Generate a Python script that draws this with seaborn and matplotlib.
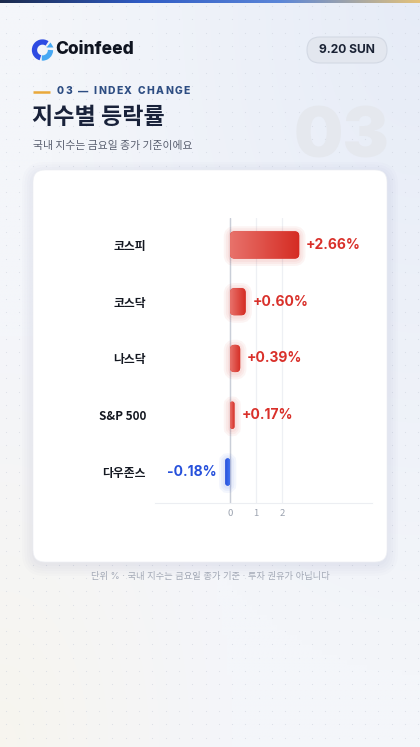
import numpy as np
import pandas as pd
import seaborn as sns
import matplotlib.pyplot as plt
from matplotlib.patches import FancyBboxPatch, Arc, Polygon
from matplotlib.colors import LinearSegmentedColormap, to_rgb

# chart data
indices = ["코스피", "코스닥", "나스닥", "S&P 500", "다우존스"]
changes = [2.66, 0.60, 0.39, 0.17, -0.18]
value_labels = ["+2.66%", "+0.60%", "+0.39%", "+0.17%", "-0.18%"]
x_ticks = [0, 1, 2]

df = pd.DataFrame({"index": indices, "change": changes})

sns.set_theme(style="white")
plt.rcParams["font.family"] = ["Noto Sans CJK KR", "DejaVu Sans"]
LATIN = ["Inter", "Noto Sans CJK KR", "DejaVu Sans"]

RED, RED_LIGHT, RED_TEXT = "#d52b22", "#e8726b", "#d9302a"
BLUE, BLUE_LIGHT = "#2650db", "#4172f0"

W, H = 420, 747
fig = plt.figure(figsize=(W / 100, H / 100), dpi=100)

# background layer in pixel coordinates
bg = fig.add_axes([0, 0, 1, 1])
bg.set_xlim(0, W)
bg.set_ylim(H, 0)
bg.axis("off")

yy, xx = np.mgrid[0:1:150j, 0:1:84j]
tr = np.clip(1 - np.hypot(1 - xx, yy) / 0.9, 0, 1) * 0.9
bl = np.clip(1 - np.hypot(xx, 1 - yy) / 0.55, 0, 1) * 0.8
img = (np.array(to_rgb("#f4f6fa")) * (1 - tr - bl)[..., None]
       + np.array(to_rgb("#e5ebf7")) * tr[..., None]
       + np.array(to_rgb("#f8f5ec")) * bl[..., None])
bg.imshow(img, extent=(0, W, H, 0), aspect="auto", interpolation="bilinear", zorder=0)

gx, gy = np.meshgrid(np.arange(6, W, 13.3), np.arange(6, H, 13.3))
bg.scatter(gx.ravel(), gy.ravel(), s=0.6, color="#cdd3de", alpha=0.65, lw=0, zorder=1)

# top accent bar
top_cmap = LinearSegmentedColormap.from_list("top", ["#1b2a4c", "#2f5bc4", "#5b86d8", "#e4c27a"])
bg.imshow(np.linspace(0, 1, 256)[None, :], cmap=top_cmap, extent=(0, W, 3, 0),
          aspect="auto", zorder=2)

# logo
bg.add_patch(Arc((42.5, 50), 16, 16, theta1=105, theta2=305, lw=3.8, color="#2e4be2", zorder=3))
bg.add_patch(Arc((42.5, 50), 16, 16, theta1=0, theta2=95, lw=3.8, color="#47a8f3", zorder=3))
bg.add_patch(Polygon([[46.5, 47.5], [53.5, 47.5], [50.5, 42.5]], closed=True,
                     color="#47a8f3", lw=0, zorder=3))
bg.text(55, 49.5, "Coinfeed", fontsize=12.5, fontweight="heavy", color="#0f1420",
        va="center", ha="left", family=LATIN, zorder=3)

# date pill
bg.add_patch(FancyBboxPatch((307, 37), 80, 26, boxstyle="round,pad=0,rounding_size=13",
                            fc="#e3e7ef", ec="#d3d9e4", lw=0.8, zorder=3))
bg.text(347, 50, "9.20 SUN", fontsize=8.7, fontweight="bold", color="#1b2335",
        va="center", ha="center", family=LATIN, zorder=4)

# section label with letter spacing
bg.plot([33, 50], [91.5, 91.5], color="#e9a83a", lw=1.8, solid_capstyle="butt", zorder=3)
renderer = fig.canvas.get_renderer()
cx = 57
for ch in "03 — INDEX CHANGE":
    if ch == " ":
        cx += 2.8 + 1.4
        continue
    t = bg.text(cx, 91.5, ch, fontsize=7.4, fontweight="heavy", color="#2d4d82",
                va="center", ha="left", family=LATIN, zorder=3)
    cx += t.get_window_extent(renderer).width + 1.4

# big watermark number
bg.text(389, 158, "03", fontsize=50, fontweight="black", color="#e5e8ee",
        va="baseline", ha="right", family=LATIN, zorder=2)

bg.text(32, 118, "지수별 등락률", fontsize=16.6, fontweight="black", color="#19223a",
        va="center", ha="left", zorder=3)
bg.text(33, 146, "국내 지수는 금요일 종가 기준이에요", fontsize=7.8, color="#5a6070",
        va="center", ha="left", zorder=3)

# card with soft shadow
for i in range(5):
    pad = 1 + i * 2.5
    bg.add_patch(FancyBboxPatch((33 - pad, 173 - pad), 354 + 2 * pad, 392 + 2 * pad,
                                boxstyle=f"round,pad=0,rounding_size={12 + pad}",
                                fc="#1a2a50", ec="none", alpha=0.013, zorder=3))
bg.add_patch(FancyBboxPatch((33, 170), 354, 392, boxstyle="round,pad=0,rounding_size=12",
                            fc="white", ec="#eef0f4", lw=0.5, zorder=4))

bg.text(210, 577, "단위 % · 국내 지수는 금요일 종가 기준 · 투자 권유가 아닙니다",
        fontsize=6.7, color="#a3a9b6", va="center", ha="center", family=LATIN, zorder=3)

# chart axes
ax = fig.add_axes([155 / W, 1 - 503 / H, (372 - 155) / W, (503 - 218) / H], zorder=5)
ax.patch.set_alpha(0)
palette = {n: (RED if v >= 0 else BLUE) for n, v in zip(indices, changes)}
sns.barplot(data=df, x="change", y="index", hue="index", palette=palette, orient="h",
            width=0.48, legend=False, saturation=1, ax=ax)

xlim = (-2.885, 5.46)
ylim = (4.546, -0.475)
px_per_x = (372 - 155) / (xlim[1] - xlim[0])
px_per_y = (503 - 218) / (ylim[0] - ylim[1])
aspect = px_per_x / px_per_y

bars = sorted(ax.patches, key=lambda p: p.get_y())
for p, v in zip(bars, changes):
    x0, w = p.get_x(), p.get_width()
    y0, h = p.get_y(), p.get_height()
    if w < 0:
        x0, w = x0 + w, -w
    p.remove()
    r = min(4.5 / px_per_x, w / 2)
    pos = v >= 0
    c_dark = RED if pos else BLUE
    c_light = RED_LIGHT if pos else BLUE_LIGHT
    for lw in [9, 6, 3]:
        ax.add_patch(FancyBboxPatch((x0, y0 + 0.02), w, h,
                                    boxstyle=f"round,pad=0,rounding_size={r}",
                                    mutation_aspect=aspect, fc="none", ec=c_dark,
                                    lw=lw, alpha=0.05, zorder=2))
    bar = FancyBboxPatch((x0, y0), w, h, boxstyle=f"round,pad=0,rounding_size={r}",
                         mutation_aspect=aspect, fc=c_dark, ec="none", zorder=3)
    ax.add_patch(bar)
    cmap = LinearSegmentedColormap.from_list("g", [c_light, c_dark] if pos else [c_dark, c_light])
    im = ax.imshow(np.linspace(0, 1, 64)[None, :], cmap=cmap, extent=(x0, x0 + w, y0 + h, y0),
                   aspect="auto", zorder=4, interpolation="bilinear")
    im.set_clip_path(bar)

for i, (v, lbl) in enumerate(zip(changes, value_labels)):
    ax.annotate(lbl, xy=(v, i), xytext=(5 if v >= 0 else -6, 0), textcoords="offset points",
                ha="left" if v >= 0 else "right", va="center", fontsize=10, fontweight="bold",
                color=RED_TEXT if v >= 0 else BLUE, family=LATIN, zorder=6)

ax.set_xlim(*xlim)
ax.set_ylim(*ylim)
ax.set_xticks(x_ticks)
ax.set_xlabel("")
ax.set_ylabel("")
ax.grid(axis="x", color="#eef0f4", lw=0.9)
ax.set_axisbelow(True)
ax.axvline(0, color="#c9ced8", lw=1, zorder=1)
for s in ["left", "top", "right"]:
    ax.spines[s].set_visible(False)
ax.spines["bottom"].set_color("#eceef2")
ax.spines["bottom"].set_linewidth(0.8)
ax.tick_params(axis="x", length=0, pad=4, labelsize=6.8, labelcolor="#9ba2af")
ax.tick_params(axis="y", length=0, pad=6.5, labelsize=8.5, labelcolor="#141821")
for t in ax.get_yticklabels():
    t.set_fontweight("bold")

fig.savefig("out.png", dpi=100)
